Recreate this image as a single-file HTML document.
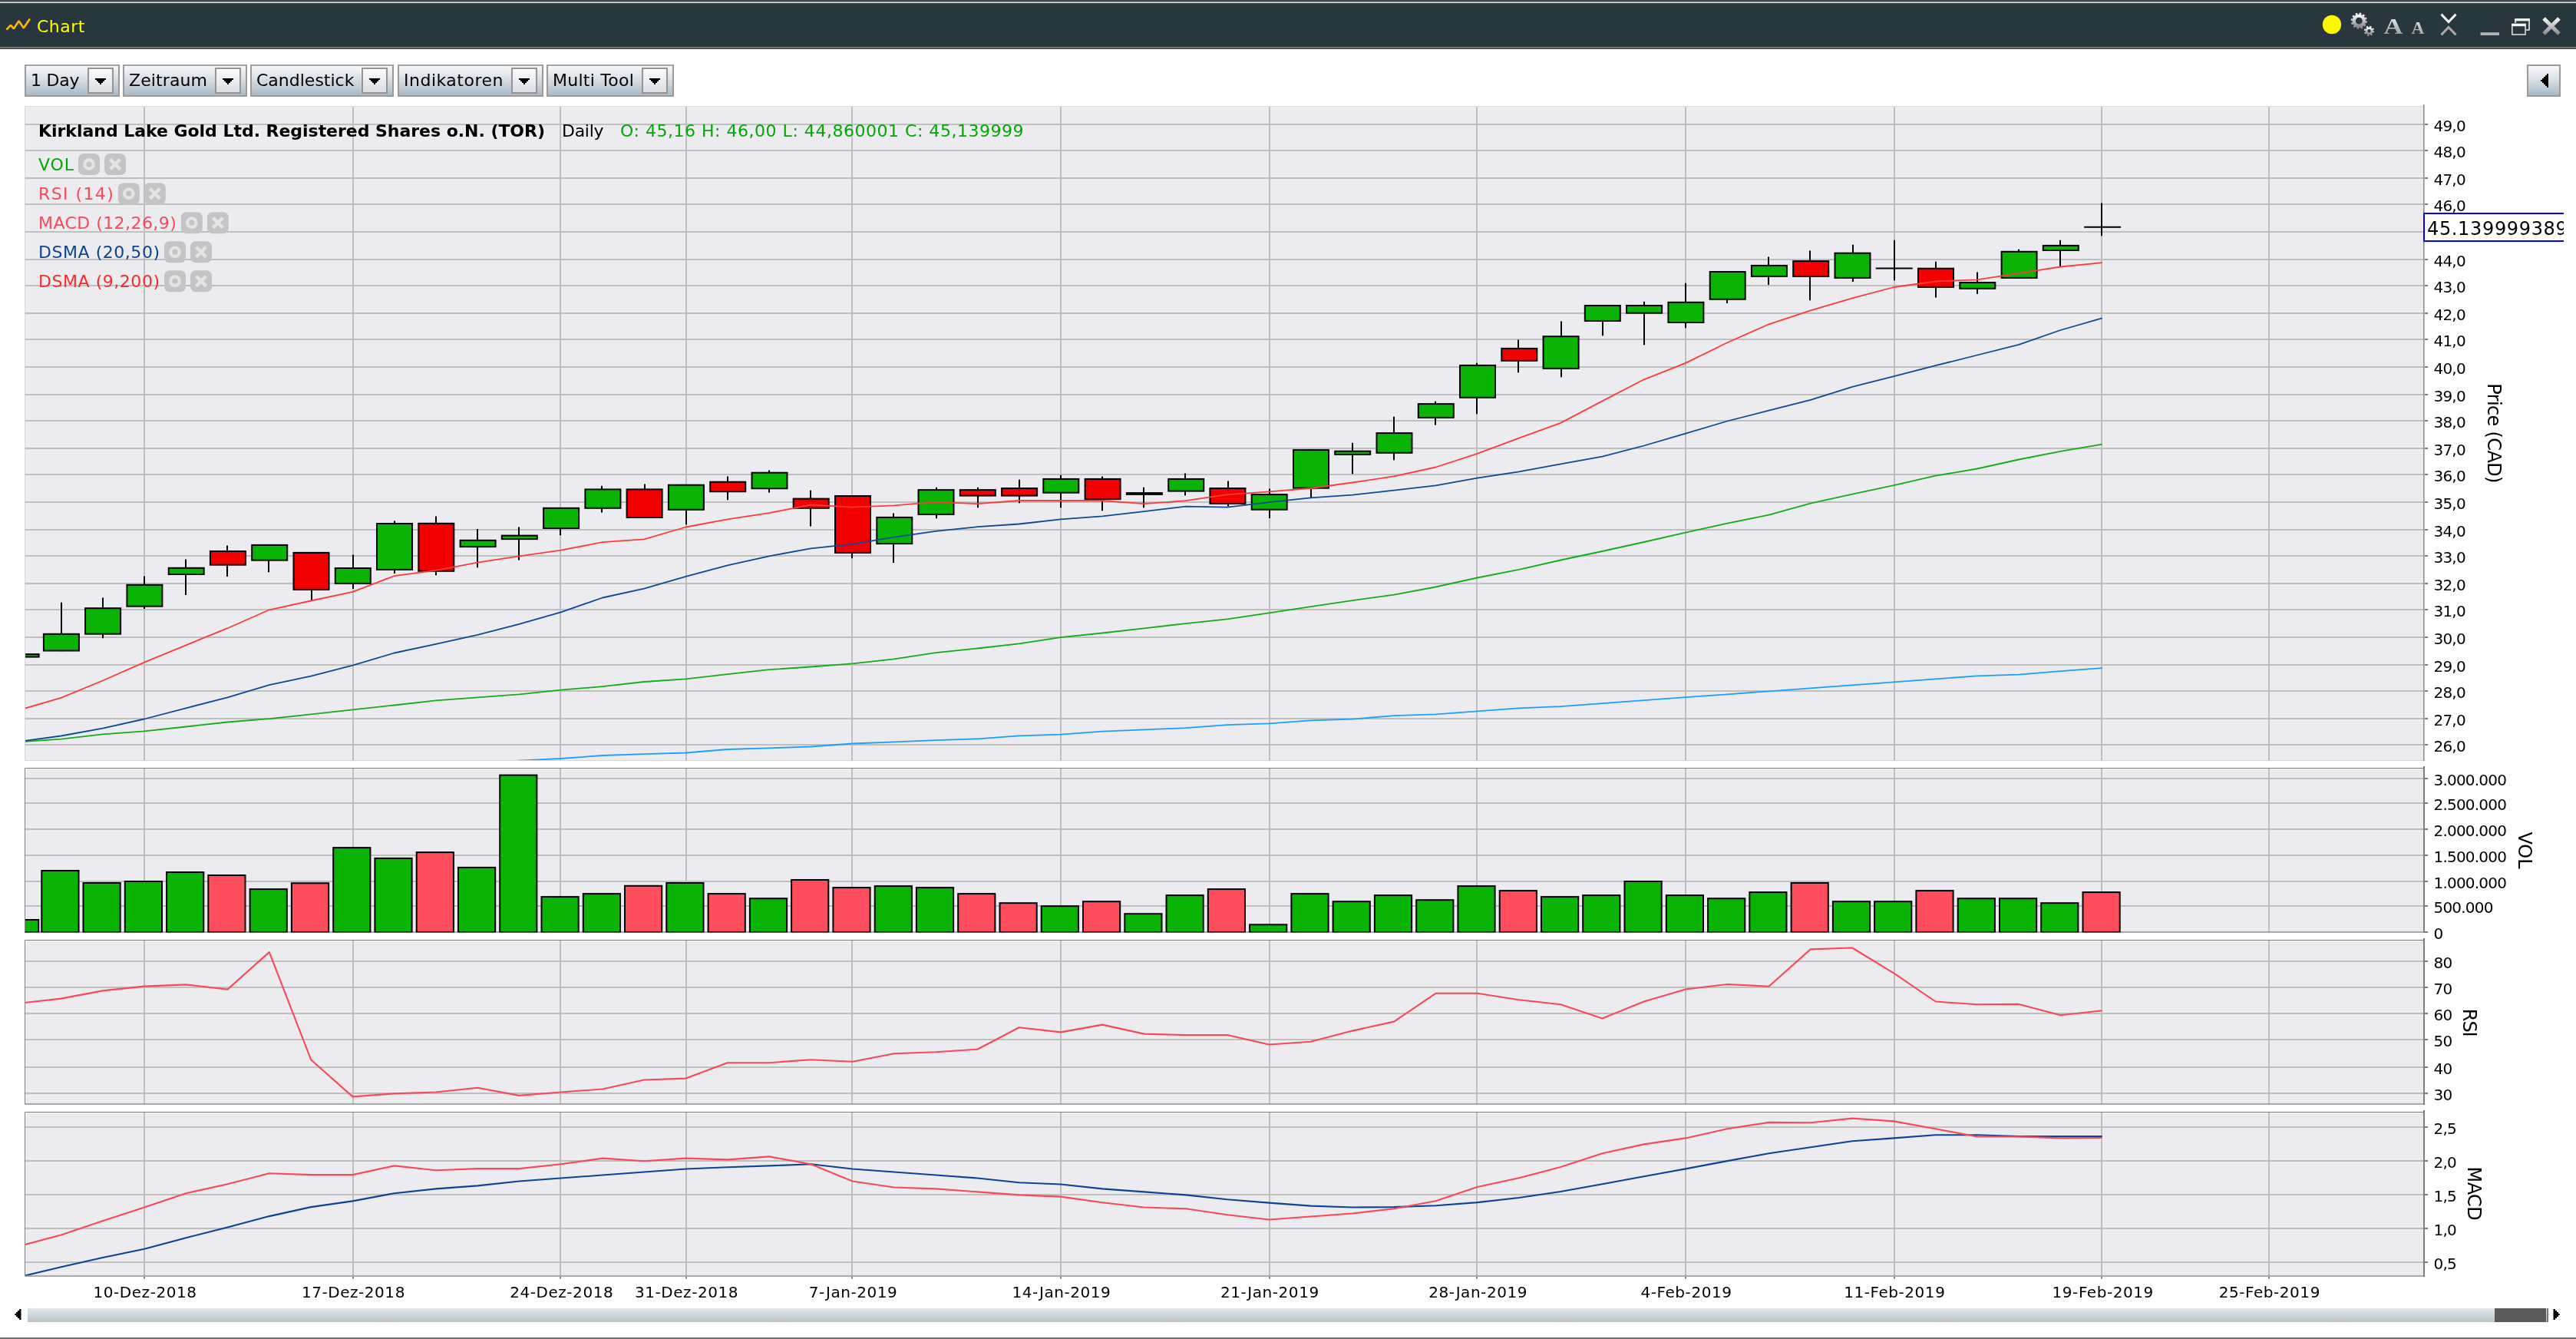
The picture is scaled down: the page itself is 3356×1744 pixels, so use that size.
<!DOCTYPE html>
<html lang="de"><head><meta charset="utf-8"><title>Chart</title>
<style>
html,body{margin:0;padding:0;background:#fff;}
body{width:3356px;height:1744px;position:relative;overflow:hidden;will-change:transform;font-family:"DejaVu Sans","Liberation Sans",sans-serif;}
#titlebar{position:absolute;left:0;top:0;width:3356px;height:64px;background:#28373d;}
#titlebar .l1{position:absolute;left:0;top:1px;width:100%;height:2px;background:#706e6c;}
#titlebar .l2{position:absolute;left:0;top:3px;width:100%;height:1.4px;background:#fff;}
#titlebar .l3{position:absolute;left:0;top:61px;width:100%;height:2px;background:#787472;}
#titlebar .ttl{position:absolute;left:48px;top:19px;font-size:22px;line-height:32px;color:#ffff00;letter-spacing:0.5px;}
#titlebar svg{position:absolute;left:0;top:0;}
#toolbar .btn{position:absolute;top:84px;height:42px;box-sizing:border-box;border:2px solid #9a9a9a;border-top-color:#a4a4a4;
  background:linear-gradient(#f6f8fa 0%,#dfe5ea 35%,#c3ced7 70%,#a9b9c5 100%);}
#toolbar .btn .lbl{position:absolute;left:6px;top:0;font-size:22px;line-height:38px;color:#000;white-space:nowrap;}
#toolbar .btn .dd{position:absolute;right:6px;top:2px;width:34px;height:34px;box-sizing:border-box;border:2px solid #959595;
  background:linear-gradient(#fafbfc,#d9dfe5);}
#toolbar .btn .dd svg{position:absolute;left:8px;top:12px;}
#collapse{position:absolute;left:3292px;top:84px;width:44px;height:42px;box-sizing:border-box;border:2px solid #9a9a9a;
  background:linear-gradient(#f8f9fb 0%,#dde3e9 40%,#c0ccd5 75%,#a8b8c4 100%);}
#collapse svg{position:absolute;left:16px;top:10px;}
#scroll{position:absolute;left:36px;top:1704px;width:3284px;height:18px;background:linear-gradient(#e2e7ea,#cfd7dc 50%,#b8c4cc);}
#scroll .thumb{position:absolute;left:3214px;top:0;width:67px;height:18px;background:#5a5a5a;}
#scroll .end{position:absolute;left:3282px;top:0;width:1.5px;height:18px;background:#777;}
#bottomline{position:absolute;left:0;top:1742px;width:3356px;height:2px;background:#6e6e6e;}
.arr{position:absolute;}
</style></head><body>
<div id="titlebar"><div class="l1"></div><div class="l2"></div><div class="l3"></div>
<svg width="3356" height="64" viewBox="0 0 3356 64">
<defs><linearGradient id="gg" x1="0" y1="0" x2="0" y2="1"><stop offset="0" stop-color="#f4f4f4"/><stop offset="1" stop-color="#8c8c8c"/></linearGradient></defs>
<polyline points="8.4,38.7 14.1,32.7 17.8,37.4 24.6,27.2 30.8,36.6 38.9,24.6" fill="none" stroke="#ffb900" stroke-width="2.6" stroke-linejoin="bevel"/>
<circle cx="3038" cy="32" r="12.2" fill="#fff700"/>
<g id="gear" fill="none" stroke="url(#gg)">
<circle cx="3073.3" cy="27.2" r="6.6" stroke-width="4.4"/>
<circle cx="3073.3" cy="27.2" r="9.3" stroke-width="2.6" stroke-dasharray="2.6 2.27"/>
<circle cx="3086.5" cy="40.3" r="3.6" stroke-width="2.8"/>
<circle cx="3086.5" cy="40.3" r="5.6" stroke-width="2.2" stroke-dasharray="2.2 2.2"/>
</g>
<text x="3105.5" y="44.2" font-family="'Liberation Serif','DejaVu Serif',serif" font-weight="bold" font-size="28.5" fill="url(#gg)" textLength="25" lengthAdjust="spacingAndGlyphs">A</text>
<text x="3141.5" y="44.2" font-family="'Liberation Serif','DejaVu Serif',serif" font-weight="bold" font-size="24" fill="url(#gg)" textLength="17" lengthAdjust="spacingAndGlyphs">A</text>
<path d="M3180.5 18.6 L3190 28.6 L3199.5 18.6" fill="none" stroke="#f2f2f2" stroke-width="3"/>
<path d="M3180.5 45.4 L3190 35.4 L3199.5 45.4" fill="none" stroke="#a8a8a8" stroke-width="3"/>
<rect x="3231.6" y="42.2" width="24.4" height="3.8" fill="#b4b4b4"/>
<g fill="none" stroke="#f0f0f0" stroke-width="1.6"><path d="M3277 25 h18 v14 h-4 M3277 25 v5" /><rect x="3276.2" y="24.2" width="19.6" height="3.2" fill="#f0f0f0" stroke="none"/>
<rect x="3272.8" y="31.6" width="17.2" height="13.4" stroke="#dcdcdc"/><rect x="3272" y="30.8" width="18.8" height="3.4" fill="#f4f4f4" stroke="none"/></g>
<path d="M3314 24 L3334 44 M3334 24 L3314 44" fill="none" stroke="url(#gg)" stroke-width="5"/>
</svg>
<span class="ttl">Chart</span></div>
<div id="toolbar"><div class="btn" style="left:32px;width:124px"><span class="lbl" style="letter-spacing:-0.2px">1 Day</span><span class="dd"><svg width="14" height="8" viewBox="0 0 14 8" shape-rendering="crispEdges"><path d="M0 0h14v2h-2v2h-2v2h-2v2h-2v-2h-2v-2h-2v-2h-2z" fill="#000"/></svg></span></div><div class="btn" style="left:160px;width:162px"><span class="lbl" style="letter-spacing:0.1px">Zeitraum</span><span class="dd"><svg width="14" height="8" viewBox="0 0 14 8" shape-rendering="crispEdges"><path d="M0 0h14v2h-2v2h-2v2h-2v2h-2v-2h-2v-2h-2v-2h-2z" fill="#000"/></svg></span></div><div class="btn" style="left:326px;width:187px"><span class="lbl" style="letter-spacing:0px">Candlestick</span><span class="dd"><svg width="14" height="8" viewBox="0 0 14 8" shape-rendering="crispEdges"><path d="M0 0h14v2h-2v2h-2v2h-2v2h-2v-2h-2v-2h-2v-2h-2z" fill="#000"/></svg></span></div><div class="btn" style="left:518px;width:190px"><span class="lbl" style="letter-spacing:0.5px">Indikatoren</span><span class="dd"><svg width="14" height="8" viewBox="0 0 14 8" shape-rendering="crispEdges"><path d="M0 0h14v2h-2v2h-2v2h-2v2h-2v-2h-2v-2h-2v-2h-2z" fill="#000"/></svg></span></div><div class="btn" style="left:712px;width:166px"><span class="lbl" style="letter-spacing:0.25px">Multi Tool</span><span class="dd"><svg width="14" height="8" viewBox="0 0 14 8" shape-rendering="crispEdges"><path d="M0 0h14v2h-2v2h-2v2h-2v2h-2v-2h-2v-2h-2v-2h-2z" fill="#000"/></svg></span></div></div>
<div id="collapse"><svg width="10" height="18" viewBox="0 0 10 18" shape-rendering="crispEdges"><path d="M10 0v18h-2v-2h-2v-2h-2v-2h-2v-2h-2v-2h2v-2h2v-2h2v-2h2v-2z" fill="#000"/></svg></div>
<svg id="chart" width="3356" height="1744" viewBox="0 0 3356 1744" style="position:absolute;left:0;top:0" font-family='&quot;DejaVu Sans&quot;,&quot;Liberation Sans&quot;,sans-serif'>
<defs>
<clipPath id="cm"><rect x="32" y="138" width="3126" height="852"/></clipPath>
<clipPath id="cv"><rect x="32" y="1000" width="3126" height="214.4"/></clipPath>
<clipPath id="cr"><rect x="32" y="1224" width="3126" height="214"/></clipPath>
<clipPath id="cc"><rect x="32" y="1448" width="3126" height="214"/></clipPath>
</defs>
<rect x="32" y="138" width="3126" height="852" fill="#ececf0"/>
<rect x="32" y="1000" width="3126" height="214" fill="#ececf0"/>
<rect x="32" y="1224" width="3126" height="214" fill="#ececf0"/>
<rect x="32" y="1448" width="3126" height="214" fill="#ececf0"/>
<g id="grid">
<rect x="32" y="161" width="3126" height="2" fill="#bfbfbd"/><rect x="32" y="195" width="3126" height="2" fill="#bfbfbd"/><rect x="32" y="231" width="3126" height="2" fill="#bfbfbd"/><rect x="32" y="265" width="3126" height="2" fill="#bfbfbd"/><rect x="32" y="301" width="3126" height="2" fill="#bfbfbd"/><rect x="32" y="337" width="3126" height="2" fill="#bfbfbd"/><rect x="32" y="371" width="3126" height="2" fill="#bfbfbd"/><rect x="32" y="407" width="3126" height="2" fill="#bfbfbd"/><rect x="32" y="441" width="3126" height="2" fill="#bfbfbd"/><rect x="32" y="477" width="3126" height="2" fill="#bfbfbd"/><rect x="32" y="513" width="3126" height="2" fill="#bfbfbd"/><rect x="32" y="547" width="3126" height="2" fill="#bfbfbd"/><rect x="32" y="583" width="3126" height="2" fill="#bfbfbd"/><rect x="32" y="617" width="3126" height="2" fill="#bfbfbd"/><rect x="32" y="653" width="3126" height="2" fill="#bfbfbd"/><rect x="32" y="689" width="3126" height="2" fill="#bfbfbd"/><rect x="32" y="723" width="3126" height="2" fill="#bfbfbd"/><rect x="32" y="759" width="3126" height="2" fill="#bfbfbd"/><rect x="32" y="793" width="3126" height="2" fill="#bfbfbd"/><rect x="32" y="829" width="3126" height="2" fill="#bfbfbd"/><rect x="32" y="865" width="3126" height="2" fill="#bfbfbd"/><rect x="32" y="899" width="3126" height="2" fill="#bfbfbd"/><rect x="32" y="935" width="3126" height="2" fill="#bfbfbd"/><rect x="32" y="969" width="3126" height="2" fill="#bfbfbd"/><rect x="187" y="138" width="2" height="852" fill="#bfbfbd"/><rect x="459" y="138" width="2" height="852" fill="#bfbfbd"/><rect x="729" y="138" width="2" height="852" fill="#bfbfbd"/><rect x="893" y="138" width="2" height="852" fill="#bfbfbd"/><rect x="1109" y="138" width="2" height="852" fill="#bfbfbd"/><rect x="1381" y="138" width="2" height="852" fill="#bfbfbd"/><rect x="1653" y="138" width="2" height="852" fill="#bfbfbd"/><rect x="1923" y="138" width="2" height="852" fill="#bfbfbd"/><rect x="2195" y="138" width="2" height="852" fill="#bfbfbd"/><rect x="2467" y="138" width="2" height="852" fill="#bfbfbd"/><rect x="2737" y="138" width="2" height="852" fill="#bfbfbd"/><rect x="2955" y="138" width="2" height="852" fill="#bfbfbd"/>
<rect x="32" y="1013" width="3126" height="2" fill="#bfbfbd"/><rect x="32" y="1045" width="3126" height="2" fill="#bfbfbd"/><rect x="32" y="1079" width="3126" height="2" fill="#bfbfbd"/><rect x="32" y="1113" width="3126" height="2" fill="#bfbfbd"/><rect x="32" y="1147" width="3126" height="2" fill="#bfbfbd"/><rect x="32" y="1179" width="3126" height="2" fill="#bfbfbd"/><rect x="187" y="1000" width="2" height="214" fill="#bfbfbd"/><rect x="459" y="1000" width="2" height="214" fill="#bfbfbd"/><rect x="729" y="1000" width="2" height="214" fill="#bfbfbd"/><rect x="893" y="1000" width="2" height="214" fill="#bfbfbd"/><rect x="1109" y="1000" width="2" height="214" fill="#bfbfbd"/><rect x="1381" y="1000" width="2" height="214" fill="#bfbfbd"/><rect x="1653" y="1000" width="2" height="214" fill="#bfbfbd"/><rect x="1923" y="1000" width="2" height="214" fill="#bfbfbd"/><rect x="2195" y="1000" width="2" height="214" fill="#bfbfbd"/><rect x="2467" y="1000" width="2" height="214" fill="#bfbfbd"/><rect x="2737" y="1000" width="2" height="214" fill="#bfbfbd"/><rect x="2955" y="1000" width="2" height="214" fill="#bfbfbd"/>
<rect x="32" y="1251" width="3126" height="2" fill="#bfbfbd"/><rect x="32" y="1285" width="3126" height="2" fill="#bfbfbd"/><rect x="32" y="1319" width="3126" height="2" fill="#bfbfbd"/><rect x="32" y="1353" width="3126" height="2" fill="#bfbfbd"/><rect x="32" y="1389" width="3126" height="2" fill="#bfbfbd"/><rect x="32" y="1423" width="3126" height="2" fill="#bfbfbd"/><rect x="187" y="1224" width="2" height="214" fill="#bfbfbd"/><rect x="459" y="1224" width="2" height="214" fill="#bfbfbd"/><rect x="729" y="1224" width="2" height="214" fill="#bfbfbd"/><rect x="893" y="1224" width="2" height="214" fill="#bfbfbd"/><rect x="1109" y="1224" width="2" height="214" fill="#bfbfbd"/><rect x="1381" y="1224" width="2" height="214" fill="#bfbfbd"/><rect x="1653" y="1224" width="2" height="214" fill="#bfbfbd"/><rect x="1923" y="1224" width="2" height="214" fill="#bfbfbd"/><rect x="2195" y="1224" width="2" height="214" fill="#bfbfbd"/><rect x="2467" y="1224" width="2" height="214" fill="#bfbfbd"/><rect x="2737" y="1224" width="2" height="214" fill="#bfbfbd"/><rect x="2955" y="1224" width="2" height="214" fill="#bfbfbd"/>
<rect x="32" y="1467" width="3126" height="2" fill="#bfbfbd"/><rect x="32" y="1511" width="3126" height="2" fill="#bfbfbd"/><rect x="32" y="1555" width="3126" height="2" fill="#bfbfbd"/><rect x="32" y="1599" width="3126" height="2" fill="#bfbfbd"/><rect x="32" y="1643" width="3126" height="2" fill="#bfbfbd"/><rect x="187" y="1448" width="2" height="214" fill="#bfbfbd"/><rect x="459" y="1448" width="2" height="214" fill="#bfbfbd"/><rect x="729" y="1448" width="2" height="214" fill="#bfbfbd"/><rect x="893" y="1448" width="2" height="214" fill="#bfbfbd"/><rect x="1109" y="1448" width="2" height="214" fill="#bfbfbd"/><rect x="1381" y="1448" width="2" height="214" fill="#bfbfbd"/><rect x="1653" y="1448" width="2" height="214" fill="#bfbfbd"/><rect x="1923" y="1448" width="2" height="214" fill="#bfbfbd"/><rect x="2195" y="1448" width="2" height="214" fill="#bfbfbd"/><rect x="2467" y="1448" width="2" height="214" fill="#bfbfbd"/><rect x="2737" y="1448" width="2" height="214" fill="#bfbfbd"/><rect x="2955" y="1448" width="2" height="214" fill="#bfbfbd"/>
</g>
<g id="candles" clip-path="url(#cm)" stroke="#000" stroke-width="2">
<line x1="28" y1="851.4" x2="28" y2="856.3"/>
<rect x="4.6" y="852.1" width="46" height="3.5" fill="#0ab404"/>
<line x1="80" y1="784.8" x2="80" y2="848.2"/>
<rect x="56.9" y="825.8" width="46" height="21.7" fill="#0ab404"/>
<line x1="134" y1="778.6" x2="134" y2="831.3"/>
<rect x="111.1" y="792.2" width="46" height="33.5" fill="#0ab404"/>
<line x1="188" y1="750.4" x2="188" y2="793.1"/>
<rect x="165.4" y="761.8" width="46" height="27.9" fill="#0ab404"/>
<line x1="242" y1="728.6" x2="242" y2="775.1"/>
<rect x="219.7" y="739.8" width="46" height="8.2" fill="#0ab404"/>
<line x1="296" y1="710.6" x2="296" y2="750.9"/>
<rect x="273.9" y="718" width="46" height="17.7" fill="#f30000"/>
<line x1="350" y1="709.2" x2="350" y2="745.2"/>
<rect x="328.2" y="709.9" width="46" height="19.8" fill="#0ab404"/>
<line x1="406" y1="719.2" x2="406" y2="782.1"/>
<rect x="382.5" y="719.9" width="46" height="48" fill="#f30000"/>
<line x1="460" y1="722.6" x2="460" y2="767"/>
<rect x="436.8" y="740" width="46" height="19.9" fill="#0ab404"/>
<line x1="514" y1="678.6" x2="514" y2="747.1"/>
<rect x="491" y="682" width="46" height="59.9" fill="#0ab404"/>
<line x1="568" y1="672.6" x2="568" y2="749.3"/>
<rect x="545.3" y="681.8" width="46" height="62" fill="#f30000"/>
<line x1="622" y1="689" x2="622" y2="739.3"/>
<rect x="599.6" y="703.8" width="46" height="8.3" fill="#0ab404"/>
<line x1="676" y1="686.5" x2="676" y2="729.4"/>
<rect x="653.8" y="697.6" width="46" height="4.5" fill="#0ab404"/>
<line x1="730" y1="661.1" x2="730" y2="697.3"/>
<rect x="708.1" y="661.8" width="46" height="26.2" fill="#0ab404"/>
<line x1="784" y1="632.8" x2="784" y2="667.4"/>
<rect x="762.4" y="637.4" width="46" height="24.4" fill="#0ab404"/>
<line x1="840" y1="630.5" x2="840" y2="674.7"/>
<rect x="816.6" y="637.4" width="46" height="36.6" fill="#f30000"/>
<line x1="894" y1="631" x2="894" y2="683.3"/>
<rect x="870.9" y="631.7" width="46" height="32.1" fill="#0ab404"/>
<line x1="948" y1="620.6" x2="948" y2="651.3"/>
<rect x="925.2" y="627.7" width="46" height="12.5" fill="#f30000"/>
<line x1="1002" y1="612.6" x2="1002" y2="641.5"/>
<rect x="979.5" y="615.7" width="46" height="20.5" fill="#0ab404"/>
<line x1="1056" y1="638.7" x2="1056" y2="685.6"/>
<rect x="1033.7" y="649.6" width="46" height="12.2" fill="#f30000"/>
<line x1="1110" y1="645.3" x2="1110" y2="727.2"/>
<rect x="1088" y="646" width="46" height="73.9" fill="#f30000"/>
<line x1="1164" y1="668.6" x2="1164" y2="733"/>
<rect x="1142.3" y="673.9" width="46" height="34.2" fill="#0ab404"/>
<line x1="1220" y1="634.8" x2="1220" y2="675.2"/>
<rect x="1196.5" y="638.1" width="46" height="31.8" fill="#0ab404"/>
<line x1="1274" y1="634.8" x2="1274" y2="661.2"/>
<rect x="1250.8" y="638.1" width="46" height="7.5" fill="#f30000"/>
<line x1="1328" y1="624.8" x2="1328" y2="655.2"/>
<rect x="1305.1" y="636" width="46" height="9.6" fill="#f30000"/>
<line x1="1382" y1="618.7" x2="1382" y2="661.2"/>
<rect x="1359.3" y="623.9" width="46" height="17.8" fill="#0ab404"/>
<line x1="1436" y1="620.6" x2="1436" y2="665.2"/>
<rect x="1413.6" y="623.9" width="46" height="26.2" fill="#f30000"/>
<line x1="1490" y1="634.8" x2="1490" y2="661.2"/>
<rect x="1467.9" y="642.1" width="46" height="1.8" fill="#000"/>
<line x1="1544" y1="616.6" x2="1544" y2="645.4"/>
<rect x="1522.2" y="623.9" width="46" height="15.7" fill="#0ab404"/>
<line x1="1600" y1="626.4" x2="1600" y2="659.6"/>
<rect x="1576.4" y="636" width="46" height="19.9" fill="#f30000"/>
<line x1="1654" y1="636.6" x2="1654" y2="675.1"/>
<rect x="1630.7" y="644.1" width="46" height="19.6" fill="#0ab404"/>
<line x1="1708" y1="585.4" x2="1708" y2="648.3"/>
<rect x="1685" y="586.1" width="46" height="49.6" fill="#0ab404"/>
<line x1="1762" y1="576.8" x2="1762" y2="617.2"/>
<rect x="1739.2" y="587.7" width="46" height="4.2" fill="#0ab404"/>
<line x1="1816" y1="542.8" x2="1816" y2="599.3"/>
<rect x="1793.5" y="564.1" width="46" height="25.7" fill="#0ab404"/>
<line x1="1870" y1="522.8" x2="1870" y2="553.4"/>
<rect x="1847.8" y="526.1" width="46" height="17.8" fill="#0ab404"/>
<line x1="1924" y1="472.8" x2="1924" y2="539.3"/>
<rect x="1902" y="475.9" width="46" height="41.9" fill="#0ab404"/>
<line x1="1978" y1="442.5" x2="1978" y2="485.3"/>
<rect x="1956.3" y="453.9" width="46" height="15.9" fill="#f30000"/>
<line x1="2034" y1="418.6" x2="2034" y2="491.3"/>
<rect x="2010.6" y="438.2" width="46" height="41.7" fill="#0ab404"/>
<line x1="2088" y1="397.3" x2="2088" y2="437.3"/>
<rect x="2064.8" y="398" width="46" height="20" fill="#0ab404"/>
<line x1="2142" y1="392.8" x2="2142" y2="449.3"/>
<rect x="2119.1" y="398" width="46" height="9.7" fill="#0ab404"/>
<line x1="2196" y1="368.7" x2="2196" y2="427.3"/>
<rect x="2173.4" y="393.8" width="46" height="26.2" fill="#0ab404"/>
<line x1="2250" y1="353.3" x2="2250" y2="395.1"/>
<rect x="2227.7" y="354" width="46" height="35.8" fill="#0ab404"/>
<line x1="2304" y1="334.6" x2="2304" y2="371"/>
<rect x="2281.9" y="345.9" width="46" height="14" fill="#0ab404"/>
<line x1="2358" y1="326.6" x2="2358" y2="391.2"/>
<rect x="2336.2" y="340.1" width="46" height="19.8" fill="#f30000"/>
<line x1="2414" y1="318.7" x2="2414" y2="367.1"/>
<rect x="2390.5" y="329.7" width="46" height="32.2" fill="#0ab404"/>
<line x1="2468" y1="312.7" x2="2468" y2="365.2"/>
<line x1="2443.7" y1="349.6" x2="2491.7" y2="349.6"/>
<line x1="2522" y1="340.8" x2="2522" y2="387.4"/>
<rect x="2499" y="349.7" width="46" height="24.2" fill="#f30000"/>
<line x1="2576" y1="354.5" x2="2576" y2="383"/>
<rect x="2553.3" y="368" width="46" height="7.8" fill="#0ab404"/>
<line x1="2630" y1="324.7" x2="2630" y2="362.6"/>
<rect x="2607.6" y="327.8" width="46" height="34.1" fill="#0ab404"/>
<line x1="2684" y1="312.7" x2="2684" y2="347.9"/>
<rect x="2661.8" y="319.9" width="46" height="6.1" fill="#0ab404"/>
<line x1="2738" y1="264.5" x2="2738" y2="307.2"/>
<line x1="2715.1" y1="295.7" x2="2763.1" y2="295.7"/>
</g>
<g id="sma">
<polyline clip-path="url(#cm)" points="622.2,994 676.4,990.6 730.7,988 785,984 839.2,982.2 893.5,980.5 947.8,976 1002.1,974.3 1056.3,972.5 1110.6,968.5 1164.9,966.3 1219.1,964.1 1273.4,962.3 1327.7,958.4 1381.9,956.6 1436.2,952.6 1490.5,950.4 1544.8,948.2 1599,944.2 1653.3,942.3 1707.6,938.3 1761.8,936.6 1816.1,932.1 1870.4,930.4 1924.6,926.4 1978.9,922.4 2033.2,920.2 2087.4,916.2 2141.7,912.2 2196,908.2 2250.3,904.3 2304.5,900.3 2358.8,896.3 2413.1,892.3 2467.3,888.3 2521.6,884.3 2575.9,880.4 2630.2,878.6 2684.4,874.2 2738.7,870.2" fill="none" stroke="#1a9fff" stroke-width="1.8" stroke-linejoin="round"/>
<polyline clip-path="url(#cm)" points="27.2,966.3 79.5,962.6 133.7,956.4 188,952.4 242.3,946.5 296.5,940.5 350.8,936.2 405.1,930.3 459.4,924.4 513.6,918.5 567.9,912.3 622.2,908.3 676.4,904.4 730.7,898.6 785,894.2 839.2,888 893.5,884.4 947.8,878.2 1002.1,872.2 1056.3,868.5 1110.6,864.3 1164.9,858.4 1219.1,850.1 1273.4,844.5 1327.7,838.4 1381.9,830.1 1436.2,824.5 1490.5,818.3 1544.8,812.1 1599,806.3 1653.3,798.3 1707.6,790.1 1761.8,782.2 1816.1,774.6 1870.4,764.5 1924.6,752.5 1978.9,741.9 2033.2,729.5 2087.4,718 2141.7,706 2196,693.7 2250.3,681.7 2304.5,670.6 2358.8,655.6 2413.1,643.6 2467.3,632.1 2521.6,619.7 2575.9,610.5 2630.2,598.5 2684.4,587.9 2738.7,578.6" fill="none" stroke="#12ae12" stroke-width="1.8" stroke-linejoin="round"/>
<polyline clip-path="url(#cm)" points="27.2,965.6 79.5,958.5 133.7,948.6 188,936.5 242.3,922.3 296.5,908.3 350.8,892.2 405.1,880.6 459.4,866.6 513.6,850.5 567.9,838.9 622.2,826.8 676.4,812.8 730.7,797.3 785,778.5 839.2,766.6 893.5,750.9 947.8,736.3 1002.1,724.3 1056.3,714.4 1110.6,708.6 1164.9,699.7 1219.1,691.8 1273.4,686.2 1327.7,682.5 1381.9,676.4 1436.2,672.3 1490.5,666.2 1544.8,659.7 1599,660.6 1653.3,654.1 1707.6,648.4 1761.8,644.6 1816.1,638.6 1870.4,632.4 1924.6,622.6 1978.9,614.4 2033.2,604.4 2087.4,594.6 2141.7,580.5 2196,564.7 2250.3,548.5 2304.5,534.7 2358.8,520.8 2413.1,503.9 2467.3,490.2 2521.6,476.2 2575.9,462.5 2630.2,448.8 2684.4,430 2738.7,414.4" fill="none" stroke="#0a4a96" stroke-width="1.8" stroke-linejoin="round"/>
<polyline clip-path="url(#cm)" points="27.2,924.2 79.5,908.8 133.7,886.5 188,862.6 242.3,840.3 296.5,818.2 350.8,794.3 405.1,782.5 459.4,770.9 513.6,750.2 567.9,742.8 622.2,732.7 676.4,724.3 730.7,716.6 785,706.2 839.2,702.4 893.5,686.5 947.8,676.3 1002.1,668.1 1056.3,657.5 1110.6,660.6 1164.9,658.3 1219.1,653.9 1273.4,656.2 1327.7,652 1381.9,652 1436.2,652 1490.5,656.2 1544.8,652.2 1599,644.1 1653.3,640.3 1707.6,636 1761.8,628.5 1816.1,620.4 1870.4,608.5 1924.6,590.8 1978.9,570.7 2033.2,550.9 2087.4,522.4 2141.7,494.3 2196,472.9 2250.3,446.2 2304.5,422.3 2358.8,404.3 2413.1,388.4 2467.3,374 2521.6,366.5 2575.9,364.3 2630.2,355.9 2684.4,347.5 2738.7,342.2" fill="none" stroke="#ff3a3a" stroke-width="1.8" stroke-linejoin="round"/>
</g>
<line x1="32" y1="1214" x2="3158" y2="1214" stroke="#909090" stroke-width="1.6"/>
<g id="volume" clip-path="url(#cv)" stroke="#000" stroke-width="2">
<rect x="2" y="1198" width="48.2" height="16.2" fill="#0ab404"/>
<rect x="54.3" y="1134" width="48.2" height="80.2" fill="#0ab404"/>
<rect x="108.5" y="1150" width="48.2" height="64.2" fill="#0ab404"/>
<rect x="162.8" y="1148" width="48.2" height="66.2" fill="#0ab404"/>
<rect x="217.1" y="1136" width="48.2" height="78.2" fill="#0ab404"/>
<rect x="271.3" y="1140" width="48.2" height="74.2" fill="#ff4d5e"/>
<rect x="325.6" y="1158.1" width="48.2" height="56.1" fill="#0ab404"/>
<rect x="379.9" y="1150.3" width="48.2" height="63.9" fill="#ff4d5e"/>
<rect x="434.2" y="1104.1" width="48.2" height="110.1" fill="#0ab404"/>
<rect x="488.4" y="1117.9" width="48.2" height="96.3" fill="#0ab404"/>
<rect x="542.7" y="1110.1" width="48.2" height="104.1" fill="#ff4d5e"/>
<rect x="597" y="1129.9" width="48.2" height="84.3" fill="#0ab404"/>
<rect x="651.2" y="1009.6" width="48.2" height="204.6" fill="#0ab404"/>
<rect x="705.5" y="1168.1" width="48.2" height="46.1" fill="#0ab404"/>
<rect x="759.8" y="1164.1" width="48.2" height="50.1" fill="#0ab404"/>
<rect x="814" y="1153.8" width="48.2" height="60.4" fill="#ff4d5e"/>
<rect x="868.3" y="1150" width="48.2" height="64.2" fill="#0ab404"/>
<rect x="922.6" y="1164.1" width="48.2" height="50.1" fill="#ff4d5e"/>
<rect x="976.9" y="1170.2" width="48.2" height="44" fill="#0ab404"/>
<rect x="1031.1" y="1146" width="48.2" height="68.2" fill="#ff4d5e"/>
<rect x="1085.4" y="1156.1" width="48.2" height="58.1" fill="#ff4d5e"/>
<rect x="1139.7" y="1154.1" width="48.2" height="60.1" fill="#0ab404"/>
<rect x="1193.9" y="1156.1" width="48.2" height="58.1" fill="#0ab404"/>
<rect x="1248.2" y="1164.1" width="48.2" height="50.1" fill="#ff4d5e"/>
<rect x="1302.5" y="1176.2" width="48.2" height="38" fill="#ff4d5e"/>
<rect x="1356.7" y="1180.2" width="48.2" height="34" fill="#0ab404"/>
<rect x="1411" y="1174.2" width="48.2" height="40" fill="#ff4d5e"/>
<rect x="1465.3" y="1190.2" width="48.2" height="24" fill="#0ab404"/>
<rect x="1519.5" y="1166.1" width="48.2" height="48.1" fill="#0ab404"/>
<rect x="1573.8" y="1158.1" width="48.2" height="56.1" fill="#ff4d5e"/>
<rect x="1628.1" y="1204.3" width="48.2" height="9.9" fill="#0ab404"/>
<rect x="1682.4" y="1164.1" width="48.2" height="50.1" fill="#0ab404"/>
<rect x="1736.6" y="1174.2" width="48.2" height="40" fill="#0ab404"/>
<rect x="1790.9" y="1166.1" width="48.2" height="48.1" fill="#0ab404"/>
<rect x="1845.2" y="1172.2" width="48.2" height="42" fill="#0ab404"/>
<rect x="1899.4" y="1154.1" width="48.2" height="60.1" fill="#0ab404"/>
<rect x="1953.7" y="1160.1" width="48.2" height="54.1" fill="#ff4d5e"/>
<rect x="2008" y="1168.1" width="48.2" height="46.1" fill="#0ab404"/>
<rect x="2062.2" y="1166.1" width="48.2" height="48.1" fill="#0ab404"/>
<rect x="2116.5" y="1148" width="48.2" height="66.2" fill="#0ab404"/>
<rect x="2170.8" y="1166.1" width="48.2" height="48.1" fill="#0ab404"/>
<rect x="2225.1" y="1170.2" width="48.2" height="44" fill="#0ab404"/>
<rect x="2279.3" y="1162.1" width="48.2" height="52.1" fill="#0ab404"/>
<rect x="2333.6" y="1150" width="48.2" height="64.2" fill="#ff4d5e"/>
<rect x="2387.9" y="1174.2" width="48.2" height="40" fill="#0ab404"/>
<rect x="2442.1" y="1174.2" width="48.2" height="40" fill="#0ab404"/>
<rect x="2496.4" y="1160.1" width="48.2" height="54.1" fill="#ff4d5e"/>
<rect x="2550.7" y="1170.2" width="48.2" height="44" fill="#0ab404"/>
<rect x="2605" y="1170.2" width="48.2" height="44" fill="#0ab404"/>
<rect x="2659.2" y="1176.2" width="48.2" height="38" fill="#0ab404"/>
<rect x="2713.5" y="1162.1" width="48.2" height="52.1" fill="#ff4d5e"/>
</g>
<g id="rsi"><polyline clip-path="url(#cr)" points="27.2,1306.5 79.5,1300.6 133.7,1290.4 188,1284.6 242.3,1282.4 296.5,1288.6 350.8,1240.1 405.1,1380.2 459.4,1428.4 513.6,1424.4 567.9,1422.5 622.2,1416.7 676.4,1426.9 730.7,1422.5 785,1418.5 839.2,1406.5 893.5,1404.6 947.8,1384.2 1002.1,1384.2 1056.3,1380.2 1110.6,1382.8 1164.9,1372.2 1219.1,1370.3 1273.4,1366.7 1327.7,1338.2 1381.9,1344.4 1436.2,1334.6 1490.5,1346.6 1544.8,1348.1 1599,1348.1 1653.3,1360.5 1707.6,1356.8 1761.8,1342.6 1816.1,1330.6 1870.4,1293.8 1924.6,1293.8 1978.9,1302.2 2033.2,1308.3 2087.4,1326.5 2141.7,1304.5 2196,1288.5 2250.3,1282 2304.5,1284.7 2358.8,1236.4 2413.1,1234.5 2467.3,1267.6 2521.6,1304.5 2575.9,1308.3 2630.2,1307.9 2684.4,1322.3 2738.7,1316.2" fill="none" stroke="#f9485a" stroke-width="2.1" stroke-linejoin="round"/></g>
<g id="macd"><polyline clip-path="url(#cc)" points="27.2,1662.7 79.5,1650.2 133.7,1638.1 188,1626.8 242.3,1612.2 296.5,1598.4 350.8,1584.1 405.1,1572.1 459.4,1564.4 513.6,1554.2 567.9,1548.4 622.2,1544.4 676.4,1538.5 730.7,1534.5 785,1530.5 839.2,1526.5 893.5,1522.5 947.8,1520.3 1002.1,1518.4 1056.3,1516.3 1110.6,1522.5 1164.9,1526.5 1219.1,1530.5 1273.4,1534.5 1327.7,1540.3 1381.9,1542.5 1436.2,1548.4 1490.5,1552.4 1544.8,1556.4 1599,1562.2 1653.3,1566.6 1707.6,1570.6 1761.8,1572.5 1816.1,1572.1 1870.4,1570.3 1924.6,1566.1 1978.9,1560 2033.2,1552 2087.4,1542.2 2141.7,1532.3 2196,1522.4 2250.3,1512.1 2304.5,1502.2 2358.8,1494.2 2413.1,1486.2 2467.3,1482.4 2521.6,1478.2 2575.9,1478.2 2630.2,1480.1 2684.4,1480.1 2738.7,1480.1" fill="none" stroke="#0a4595" stroke-width="2.1" stroke-linejoin="round"/><polyline clip-path="url(#cc)" points="27.2,1622.3 79.5,1608.6 133.7,1590.3 188,1572.5 242.3,1554.2 296.5,1542.2 350.8,1528.3 405.1,1530.1 459.4,1530.1 513.6,1518.4 567.9,1524.3 622.2,1522.1 676.4,1522.1 730.7,1516.3 785,1508.6 839.2,1512.2 893.5,1508.6 947.8,1510.4 1002.1,1506.4 1056.3,1516.3 1110.6,1538.5 1164.9,1546.5 1219.1,1548.4 1273.4,1552.4 1327.7,1556.4 1381.9,1558.6 1436.2,1566.2 1490.5,1572.5 1544.8,1574.3 1599,1582.3 1653.3,1588.5 1707.6,1584.5 1761.8,1580.5 1816.1,1574.3 1870.4,1564.2 1924.6,1546 1978.9,1534.2 2033.2,1520.1 2087.4,1502.2 2141.7,1490.4 2196,1482.4 2250.3,1470.2 2304.5,1461.9 2358.8,1462.3 2413.1,1456.6 2467.3,1460.4 2521.6,1470.2 2575.9,1480.5 2630.2,1480.5 2684.4,1482.4 2738.7,1482" fill="none" stroke="#f9485a" stroke-width="2.1" stroke-linejoin="round"/></g>
<g id="outlines" fill="none">
<path d="M32.5 138 V990.5 H3158" stroke="#d4d4d4" stroke-width="1"/>
<path d="M32 138.5 H3158" stroke="#dedede" stroke-width="1"/>
<line x1="3157.8" y1="136" x2="3157.8" y2="991" stroke="#888" stroke-width="1.5"/>
<path d="M32.5 1214 V1000.5 H3158" stroke="#808080" stroke-width="1"/>
<line x1="3158" y1="998" x2="3158" y2="1215" stroke="#7e7e7e" stroke-width="2"/>
<path d="M32.5 1438 V1224.5 H3158" stroke="#808080" stroke-width="1"/>
<line x1="32" y1="1438" x2="3158" y2="1438" stroke="#909090" stroke-width="1.6"/>
<line x1="3158" y1="1222" x2="3158" y2="1439" stroke="#7e7e7e" stroke-width="2"/>
<path d="M32.5 1662 V1448.5 H3158" stroke="#808080" stroke-width="1"/>
<line x1="32" y1="1662" x2="3158" y2="1662" stroke="#909090" stroke-width="1.6"/>
<line x1="3158" y1="1446" x2="3158" y2="1663" stroke="#7e7e7e" stroke-width="2"/>
</g>
<g id="ticks" fill="#7a7a7a">
<rect x="3159" y="161" width="4" height="2"/>
<rect x="3159" y="195" width="4" height="2"/>
<rect x="3159" y="231" width="4" height="2"/>
<rect x="3159" y="265" width="4" height="2"/>
<rect x="3159" y="301" width="4" height="2"/>
<rect x="3159" y="337" width="4" height="2"/>
<rect x="3159" y="371" width="4" height="2"/>
<rect x="3159" y="407" width="4" height="2"/>
<rect x="3159" y="441" width="4" height="2"/>
<rect x="3159" y="477" width="4" height="2"/>
<rect x="3159" y="513" width="4" height="2"/>
<rect x="3159" y="547" width="4" height="2"/>
<rect x="3159" y="583" width="4" height="2"/>
<rect x="3159" y="617" width="4" height="2"/>
<rect x="3159" y="653" width="4" height="2"/>
<rect x="3159" y="689" width="4" height="2"/>
<rect x="3159" y="723" width="4" height="2"/>
<rect x="3159" y="759" width="4" height="2"/>
<rect x="3159" y="793" width="4" height="2"/>
<rect x="3159" y="829" width="4" height="2"/>
<rect x="3159" y="865" width="4" height="2"/>
<rect x="3159" y="899" width="4" height="2"/>
<rect x="3159" y="935" width="4" height="2"/>
<rect x="3159" y="969" width="4" height="2"/>
<rect x="3159" y="1013" width="4" height="2"/>
<rect x="3159" y="1045" width="4" height="2"/>
<rect x="3159" y="1079" width="4" height="2"/>
<rect x="3159" y="1113" width="4" height="2"/>
<rect x="3159" y="1147" width="4" height="2"/>
<rect x="3159" y="1179" width="4" height="2"/>
<rect x="3159" y="1213" width="4" height="2"/>
<rect x="3159" y="1251" width="4" height="2"/>
<rect x="3159" y="1285" width="4" height="2"/>
<rect x="3159" y="1319" width="4" height="2"/>
<rect x="3159" y="1353" width="4" height="2"/>
<rect x="3159" y="1389" width="4" height="2"/>
<rect x="3159" y="1423" width="4" height="2"/>
<rect x="3159" y="1467" width="4" height="2"/>
<rect x="3159" y="1511" width="4" height="2"/>
<rect x="3159" y="1555" width="4" height="2"/>
<rect x="3159" y="1599" width="4" height="2"/>
<rect x="3159" y="1643" width="4" height="2"/>
<rect x="187" y="1663" width="2" height="2.5"/>
<rect x="459" y="1663" width="2" height="2.5"/>
<rect x="729" y="1663" width="2" height="2.5"/>
<rect x="893" y="1663" width="2" height="2.5"/>
<rect x="1109" y="1663" width="2" height="2.5"/>
<rect x="1381" y="1663" width="2" height="2.5"/>
<rect x="1653" y="1663" width="2" height="2.5"/>
<rect x="1923" y="1663" width="2" height="2.5"/>
<rect x="2195" y="1663" width="2" height="2.5"/>
<rect x="2467" y="1663" width="2" height="2.5"/>
<rect x="2737" y="1663" width="2" height="2.5"/>
<rect x="2955" y="1663" width="2" height="2.5"/>
</g>
<g id="ylabels" font-size="20" fill="#000" letter-spacing="-0.8">
<text x="3170.5" y="170.7">49,0</text>
<text x="3170.5" y="204.7">48,0</text>
<text x="3170.5" y="240.7">47,0</text>
<text x="3170.5" y="274.7">46,0</text>
<text x="3170.5" y="346.7">44,0</text>
<text x="3170.5" y="380.7">43,0</text>
<text x="3170.5" y="416.7">42,0</text>
<text x="3170.5" y="450.7">41,0</text>
<text x="3170.5" y="486.7">40,0</text>
<text x="3170.5" y="522.7">39,0</text>
<text x="3170.5" y="556.7">38,0</text>
<text x="3170.5" y="592.7">37,0</text>
<text x="3170.5" y="626.7">36,0</text>
<text x="3170.5" y="662.7">35,0</text>
<text x="3170.5" y="698.7">34,0</text>
<text x="3170.5" y="732.7">33,0</text>
<text x="3170.5" y="768.7">32,0</text>
<text x="3170.5" y="802.7">31,0</text>
<text x="3170.5" y="838.7">30,0</text>
<text x="3170.5" y="874.7">29,0</text>
<text x="3170.5" y="908.7">28,0</text>
<text x="3170.5" y="944.7">27,0</text>
<text x="3170.5" y="978.7">26,0</text>
<text x="3170.5" y="1022.7">3.000.000</text>
<text x="3170.5" y="1054.7">2.500.000</text>
<text x="3170.5" y="1088.7">2.000.000</text>
<text x="3170.5" y="1122.7">1.500.000</text>
<text x="3170.5" y="1156.7">1.000.000</text>
<text x="3170.5" y="1188.7">500.000</text>
<text x="3170.5" y="1222.7">0</text>
<text x="3170.5" y="1260.7">80</text>
<text x="3170.5" y="1294.7">70</text>
<text x="3170.5" y="1328.7">60</text>
<text x="3170.5" y="1362.7">50</text>
<text x="3170.5" y="1398.7">40</text>
<text x="3170.5" y="1432.7">30</text>
<text x="3170.5" y="1476.7">2,5</text>
<text x="3170.5" y="1520.7">2,0</text>
<text x="3170.5" y="1564.7">1,5</text>
<text x="3170.5" y="1608.7">1,0</text>
<text x="3170.5" y="1652.7">0,5</text>
</g>
<g id="xlabels" font-size="20" fill="#000" text-anchor="middle" letter-spacing="0.55">
<text x="189" y="1689.6">10-Dez-2018</text>
<text x="460.4" y="1689.6">17-Dez-2018</text>
<text x="731.7" y="1689.6">24-Dez-2018</text>
<text x="894.5" y="1689.6">31-Dez-2018</text>
<text x="1111.6" y="1689.6">7-Jan-2019</text>
<text x="1382.9" y="1689.6">14-Jan-2019</text>
<text x="1654.3" y="1689.6">21-Jan-2019</text>
<text x="1925.6" y="1689.6">28-Jan-2019</text>
<text x="2197" y="1689.6">4-Feb-2019</text>
<text x="2468.3" y="1689.6">11-Feb-2019</text>
<text x="2739.7" y="1689.6">19-Feb-2019</text>
<text x="2956.8" y="1689.6">25-Feb-2019</text>
</g>
<g id="axistitles" font-size="24" fill="#000" text-anchor="middle">
<text transform="translate(3240.5,564) rotate(90)" letter-spacing="-0.65">Price (CAD)</text>
<text transform="translate(3281,1107.5) rotate(90)">VOL</text>
<text transform="translate(3208.5,1331.7) rotate(90)" letter-spacing="-1">RSI</text>
<text transform="translate(3215,1554.3) rotate(90)" letter-spacing="-0.6">MACD</text>
</g>
<g id="pricemarker"><rect x="3158" y="278" width="182" height="36" fill="#fff"/><path d="M3340 278 H3158 V314 H3340" fill="none" stroke="#0000ff" stroke-width="2"/><clipPath id="pm"><rect x="3159" y="279" width="181" height="34"/></clipPath><text clip-path="url(#pm)" x="3162" y="305.6" font-size="24" letter-spacing="0.65">45.139999389</text></g>
<g id="legend" font-size="22">
<text x="50" y="178.3" font-weight="bold" fill="#000" textLength="660" lengthAdjust="spacing">Kirkland Lake Gold Ltd. Registered Shares o.N. (TOR)</text>
<text x="732" y="178.3" fill="#000" textLength="54.5" lengthAdjust="spacing">Daily</text>
<text x="808" y="178.3" fill="#00a800" textLength="525.5" lengthAdjust="spacing">O: 45,16 H: 46,00 L: 44,860001 C: 45,139999</text>
<text x="50" y="221.8" fill="#00a800" textLength="46" lengthAdjust="spacing">VOL</text>
<g transform="translate(102,200)"><rect width="28" height="28" rx="7" fill="#c4c4c6"/><circle cx="14" cy="14" r="7.8" fill="#e4e4e7"/><circle cx="14" cy="14" r="3.6" fill="#c4c4c6"/><rect x="34" width="28" height="28" rx="7" fill="#c4c4c6"/><path d="M41.6 7.6 L54.4 20.4 M54.4 7.6 L41.6 20.4" stroke="#e4e4e7" stroke-width="4.4" fill="none"/></g>
<text x="50" y="260" fill="#f9485a" textLength="97.8" lengthAdjust="spacing">RSI (14)</text>
<g transform="translate(153.8,238.2)"><rect width="28" height="28" rx="7" fill="#c4c4c6"/><circle cx="14" cy="14" r="7.8" fill="#e4e4e7"/><circle cx="14" cy="14" r="3.6" fill="#c4c4c6"/><rect x="34" width="28" height="28" rx="7" fill="#c4c4c6"/><path d="M41.6 7.6 L54.4 20.4 M54.4 7.6 L41.6 20.4" stroke="#e4e4e7" stroke-width="4.4" fill="none"/></g>
<text x="50" y="298" fill="#f9485a" textLength="179.8" lengthAdjust="spacing">MACD (12,26,9)</text>
<g transform="translate(235.8,276.2)"><rect width="28" height="28" rx="7" fill="#c4c4c6"/><circle cx="14" cy="14" r="7.8" fill="#e4e4e7"/><circle cx="14" cy="14" r="3.6" fill="#c4c4c6"/><rect x="34" width="28" height="28" rx="7" fill="#c4c4c6"/><path d="M41.6 7.6 L54.4 20.4 M54.4 7.6 L41.6 20.4" stroke="#e4e4e7" stroke-width="4.4" fill="none"/></g>
<text x="50" y="336" fill="#0a4595" textLength="158" lengthAdjust="spacing">DSMA (20,50)</text>
<g transform="translate(214,314.2)"><rect width="28" height="28" rx="7" fill="#c4c4c6"/><circle cx="14" cy="14" r="7.8" fill="#e4e4e7"/><circle cx="14" cy="14" r="3.6" fill="#c4c4c6"/><rect x="34" width="28" height="28" rx="7" fill="#c4c4c6"/><path d="M41.6 7.6 L54.4 20.4 M54.4 7.6 L41.6 20.4" stroke="#e4e4e7" stroke-width="4.4" fill="none"/></g>
<text x="50" y="374" fill="#f82a2a" textLength="158" lengthAdjust="spacing">DSMA (9,200)</text>
<g transform="translate(214,352.2)"><rect width="28" height="28" rx="7" fill="#c4c4c6"/><circle cx="14" cy="14" r="7.8" fill="#e4e4e7"/><circle cx="14" cy="14" r="3.6" fill="#c4c4c6"/><rect x="34" width="28" height="28" rx="7" fill="#c4c4c6"/><path d="M41.6 7.6 L54.4 20.4 M54.4 7.6 L41.6 20.4" stroke="#e4e4e7" stroke-width="4.4" fill="none"/></g>
</g>
</svg>
<svg class="arr" style="left:18px;top:1705px" width="10" height="14" viewBox="0 0 10 14"><path d="M9.5 0h-2.5v2h-2v2h-2v2h-1.7v2h1.7v2h2v2h2v2h2.5z" fill="#000"/></svg>
<div id="scroll"><div class="thumb"></div><div class="end"></div></div>
<svg class="arr" style="left:3326px;top:1705px" width="10" height="14" viewBox="0 0 10 14"><path d="M0.5 0h2.5v2h2v2h2v2h1.7v2h-1.7v2h-2v2h-2v2h-2.5z" fill="#000"/></svg>
<div id="bottomline"></div>
</body></html>
